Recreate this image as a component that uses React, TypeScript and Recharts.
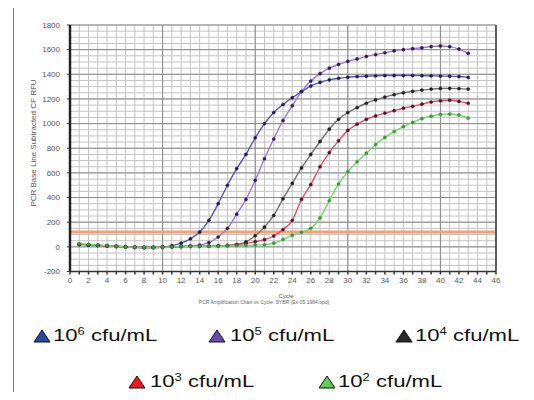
import React from "react";
import {
  LineChart,
  Line,
  XAxis,
  YAxis,
  CartesianGrid,
  ReferenceLine,
} from "recharts";

// PCR cycle numbers
const cycles = [
  1, 2, 3, 4, 5, 6, 7, 8, 9, 10, 11, 12, 13, 14, 15, 16, 17, 18, 19, 20, 21, 22,
  23, 24, 25, 26, 27, 28, 29, 30, 31, 32, 33, 34, 35, 36, 37, 38, 39, 40, 41, 42, 43,
];

// RFU per cycle, one array per dilution
const rfu1e6 = [
  20, 16, 12, 8, 4, 0, -3, -5, -4, 0, 10, 30, 65, 120, 215, 350, 500, 635, 750, 885,
  1000, 1090, 1155, 1210, 1260, 1305, 1335, 1355, 1368, 1376, 1382, 1385, 1388, 1390,
  1390, 1390, 1390, 1389, 1388, 1386, 1385, 1382, 1375,
];
const rfu1e5 = [
  20, 16, 12, 8, 4, 0, -3, -5, -5, -3, 0, 4, 8, 15, 35, 80, 150, 265, 385, 540, 715,
  875, 1025, 1145, 1260, 1345, 1405, 1450, 1480, 1505, 1525, 1545, 1560, 1575, 1590,
  1600, 1608, 1615, 1625, 1630, 1625, 1605, 1570,
];
const rfu1e4 = [
  20, 16, 12, 8, 4, 0, -3, -5, -5, -3, 0, 2, 4, 5, 6, 8, 12, 20, 40, 90, 160, 255, 390,
  515, 640, 750, 855, 955, 1035, 1090, 1130, 1165, 1192, 1215, 1235, 1250, 1262, 1272,
  1280, 1285, 1286, 1284, 1280,
];
const rfu1e3 = [
  22, 18, 13, 8, 4, 0, -3, -5, -5, -3, 0, 2, 4, 5, 6, 8, 10, 15, 28, 42, 58, 88, 140,
  215, 385, 505, 650, 765, 860, 945, 995, 1035, 1062, 1085, 1105, 1125, 1140, 1158,
  1175, 1185, 1190, 1180, 1165,
];
const rfu1e2 = [
  25, 20, 15, 10, 5, 0, -3, -5, -5, -3, 0, 3, 5, 5, 5, 5, 8, 10, 12, 15, 18, 30, 60,
  95, 118, 150, 235, 375, 510, 610, 690, 760, 830, 888, 935, 975, 1010, 1040, 1060,
  1075, 1078, 1070, 1045,
];

const threshold = 120;

const xTicks = [
  0, 1, 2, 3, 4, 5, 6, 7, 8, 9, 10, 11, 12, 13, 14, 15, 16, 17, 18, 19, 20, 21, 22, 23,
  24, 25, 26, 27, 28, 29, 30, 31, 32, 33, 34, 35, 36, 37, 38, 39, 40, 41, 42, 43, 44,
  45, 46,
];
const yTicks = [-200, 0, 200, 400, 600, 800, 1000, 1200, 1400, 1600, 1800];

const series = [
  { key: "e6", values: rfu1e6, line: "#5656c4", dot: "#1c1c50" },
  { key: "e5", values: rfu1e5, line: "#a472e6", dot: "#2c1c50" },
  { key: "e4", values: rfu1e4, line: "#707070", dot: "#222222" },
  { key: "e3", values: rfu1e3, line: "#ea4a6a", dot: "#4a1a22" },
  { key: "e2", values: rfu1e2, line: "#6cda6c", dot: "#3a9a3a" },
];

const legend = [
  { exp: "6", fill: "#2a4aa0", left: 33, textLeft: 53, top: 327 },
  { exp: "5", fill: "#6a4ab0", left: 208, textLeft: 230, top: 327 },
  { exp: "4", fill: "#2a2a2a", left: 395, textLeft: 415, top: 327 },
  { exp: "3", fill: "#e81c1c", left: 128, textLeft: 150, top: 373 },
  { exp: "2", fill: "#5cd05c", left: 318, textLeft: 338, top: 373 },
];

const data = cycles.map((c, i) => {
  const row: any = { cycle: c };
  series.forEach((s) => (row[s.key] = s.values[i]));
  return row;
});

// grid line positions
const minorX = Array.from({ length: 47 }, (_, i) => i);
const majorX = [0, 10, 20, 30, 40];
const minorY = Array.from({ length: 41 }, (_, i) => -200 + i * 50);

const tickFont = { fontSize: 8, fill: "#555", fontFamily: "Liberation Sans, Arial, sans-serif" };

export default function App() {
  return (
    <div
      style={{
        position: "relative",
        width: 534,
        height: 400,
        margin: -8,
        background: "#fff",
        overflow: "hidden",
        fontFamily: "Liberation Sans, Arial, sans-serif",
      }}
    >
      <div
        style={{
          position: "absolute",
          left: 13,
          top: 7,
          width: 540,
          height: 410,
          borderTop: "1.5px solid #7a7a7a",
          borderLeft: "1.5px solid #7a7a7a",
        }}
      />
      <div style={{ position: "absolute", left: 0, top: 0 }}>
        <LineChart
          width={534}
          height={400}
          data={data}
          margin={{ top: 25, right: 8, left: 40, bottom: 108.5 }}
        >
          <CartesianGrid
            yAxisId="left"
            stroke="#c4c4c4"
            strokeWidth={1}
            verticalValues={minorX}
            horizontalValues={minorY}
          />
          <CartesianGrid
            yAxisId="left"
            stroke="#8a8a8a"
            strokeWidth={1}
            verticalValues={majorX}
            horizontalValues={yTicks}
            fill="none"
          />
          <XAxis
            dataKey="cycle"
            type="number"
            domain={[0, 46]}
            ticks={xTicks}
            interval={0}
            tickFormatter={(v) => (v % 2 === 0 ? String(v) : "")}
            height={20}
            tick={tickFont}
            tickSize={3}
            tickMargin={3}
            axisLine={{ stroke: "#333", strokeWidth: 1.5 }}
            tickLine={{ stroke: "#333", strokeWidth: 1.5 }}
          />
          <YAxis
            yAxisId="left"
            domain={[-200, 1800]}
            ticks={yTicks}
            interval={0}
            width={30}
            tick={tickFont}
            tickSize={3}
            tickMargin={7}
            axisLine={{ stroke: "#222", strokeWidth: 2.5 }}
            tickLine={{ stroke: "#333" }}
          />
          <YAxis
            yAxisId="right"
            orientation="right"
            domain={[-200, 1800]}
            ticks={yTicks}
            interval={0}
            width={30}
            tick={tickFont}
            tickSize={3}
            tickMargin={3}
            axisLine={{ stroke: "#333", strokeWidth: 1.5 }}
            tickLine={{ stroke: "#333" }}
          />
          <ReferenceLine
            yAxisId="left"
            y={threshold}
            stroke="#f4a070"
            strokeWidth={3}
          />
          {series.map((s) => (
            <Line
              key={s.key}
              yAxisId="left"
              dataKey={s.key}
              type="monotone"
              stroke={s.line}
              strokeWidth={1.4}
              dot={{ r: 1.6, fill: s.dot, stroke: s.dot, strokeWidth: 0.4 }}
              isAnimationActive={false}
            />
          ))}
        </LineChart>
      </div>

      {/* axis titles */}
      <div
        style={{
          position: "absolute",
          left: 33,
          top: 143,
          transform: "translate(-50%, -50%) rotate(-90deg)",
          whiteSpace: "nowrap",
          fontSize: 8,
          color: "#555",
        }}
      >
        PCR Base Line Subtracted CF RFU
      </div>
      <div
        style={{
          position: "absolute",
          left: 286,
          top: 296,
          transform: "translate(-50%, -50%)",
          fontSize: 6,
          color: "#555",
        }}
      >
        Cycle
      </div>
      <div
        style={{
          position: "absolute",
          left: 264,
          top: 302,
          transform: "translate(-50%, -50%)",
          whiteSpace: "nowrap",
          fontSize: 5,
          color: "#666",
        }}
      >
        PCR Amplification Chart vs Cycle: SYBR (Ex-05 1984.opd)
      </div>

      {/* legend */}
      {legend.map((l) => (
        <React.Fragment key={l.exp}>
          <svg
            style={{ position: "absolute", left: l.left, top: l.top + 2 }}
            width={18}
            height={14}
          >
            <polygon
              points="1,13 9,1 17,13"
              fill={l.fill}
              stroke="#111"
              strokeWidth={1}
            />
          </svg>
          <div
            style={{
              position: "absolute",
              left: l.textLeft,
              top: l.top,
              fontSize: 17,
              lineHeight: 1,
              whiteSpace: "nowrap",
              color: "#111",
              transform: "scaleX(1.3)",
              transformOrigin: "left center",
            }}
          >
            10<sup style={{ fontSize: 10, verticalAlign: "6px", lineHeight: 0 }}>{l.exp}</sup> cfu/mL
          </div>
        </React.Fragment>
      ))}
    </div>
  );
}
